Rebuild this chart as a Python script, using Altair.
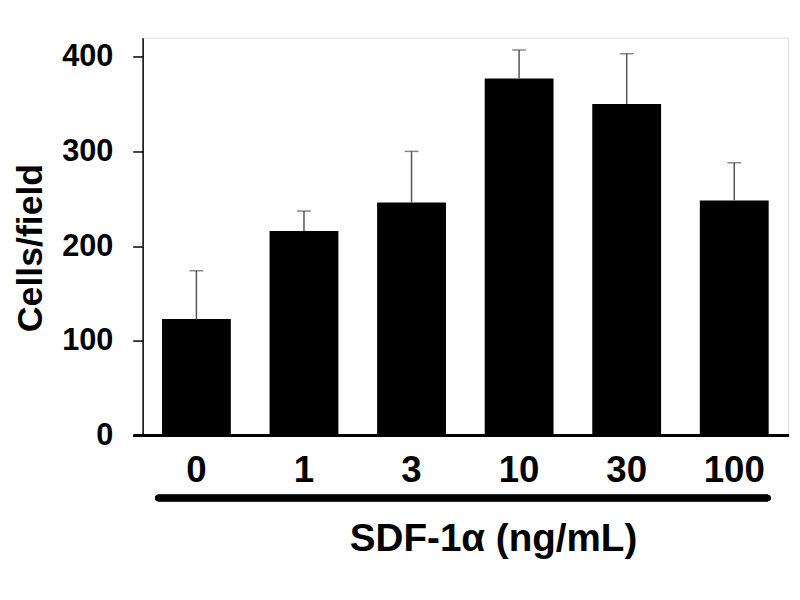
import altair as alt
import pandas as pd

doses = ["0", "1", "3", "10", "30", "100"]
means = [123, 216, 246, 377, 350, 248]
uppers = [174, 237, 300, 407, 403, 288]

df = pd.DataFrame({"dose": doses, "mean": means, "upper": uppers})

W = 652
H = 402
FONT = "Liberation Sans"

xenc = alt.X("dose:N", sort=doses,
             scale=alt.Scale(paddingInner=0.36, paddingOuter=0.18),
             axis=alt.Axis(title="SDF-1α (ng/mL)", labelAngle=0, domain=False, ticks=False,
                           labelPadding=46, labelBaseline="alphabetic", labelFontSize=37,
                           labelFont=FONT, labelFontWeight="bold", labelColor="black",
                           titleFont=FONT, titleFontSize=39, titleFontWeight="bold",
                           titleColor="black", titleX=354, titleY=116, titleBaseline="alphabetic",
                           titleAlign="center", titleAnchor="start"))

yscale = alt.Scale(domain=[0, 420], nice=False)

bars = alt.Chart(df).mark_bar(color="black").encode(
    x=xenc,
    y=alt.Y("mean:Q", scale=yscale,
            axis=alt.Axis(title="Cells/field", values=[0, 100, 200, 300, 400], grid=False,
                          domainColor="black", domainWidth=1.5, tickColor="black", tickWidth=1.5,
                          tickSize=10, labelPadding=20, labelFontSize=31, labelFont=FONT,
                          labelFontWeight="bold", labelColor="black", titleFont=FONT,
                          titleFontSize=36, titleFontWeight="bold", titleColor="black",
                          titleX=-102, titleY=212, titleAngle=270, titleBaseline="alphabetic",
                          titleAlign="center", titleAnchor="start")),
)

err = alt.Chart(df).mark_rule(color="#555555", strokeWidth=1.5).encode(
    x=alt.X("dose:N", sort=doses),
    y=alt.Y("mean:Q", scale=yscale),
    y2="upper:Q",
)

caps = alt.Chart(df).mark_tick(color="#555555", thickness=1.5, size=14).encode(
    x=alt.X("dose:N", sort=doses),
    y=alt.Y("upper:Q", scale=yscale),
)

xline = alt.Chart(df).mark_rule(color="black", strokeWidth=2).encode(
    x=alt.value(-9), x2=alt.value(W + 1), y=alt.value(H)
)

bracket = alt.Chart(df).mark_rule(color="black", strokeWidth=6.5, strokeCap="round").encode(
    x=alt.value(16), x2=alt.value(631), y=alt.value(465)
)

chart = alt.layer(bars, err, caps, xline, bracket).properties(
    width=W, height=H,
    autosize=alt.AutoSizeParams(type="none"),
    padding={"left": 136, "top": 27, "right": 4, "bottom": 150},
).configure_view(stroke=None).configure(background="white")

chart.save("out.html", embed_options={"renderer": "svg", "actions": False})
